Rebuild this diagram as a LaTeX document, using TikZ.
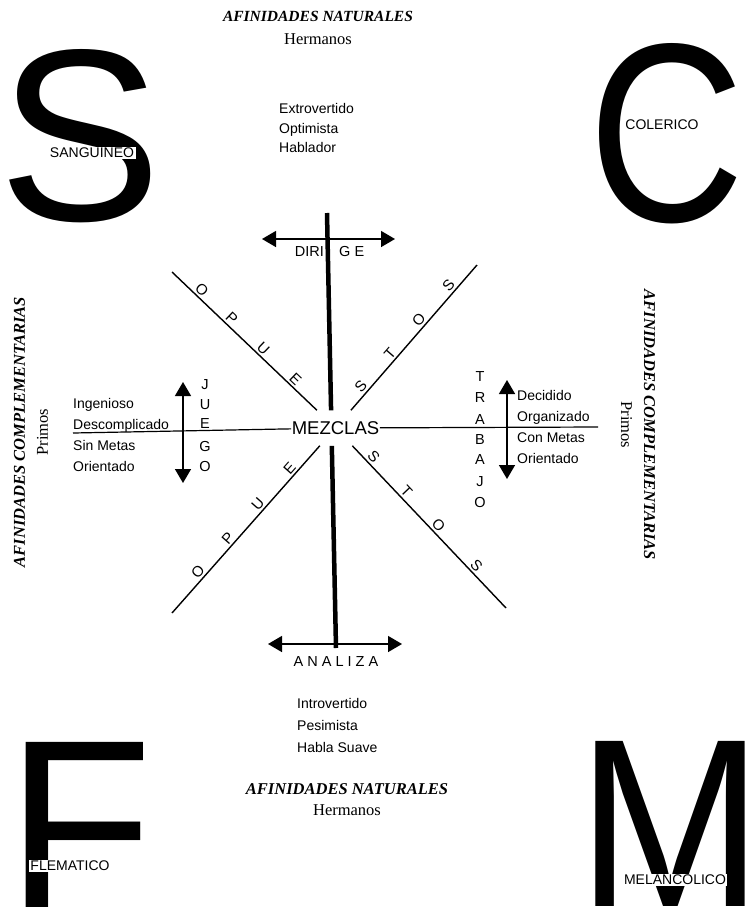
\documentclass[tikz,border=0pt]{standalone}
\usepackage{fontspec}
\setmainfont{Liberation Serif}
\setsansfont{Liberation Sans}
\usetikzlibrary{arrows.meta,positioning,calc}

\begin{document}
\begin{tikzpicture}[
 x=1pt,y=1pt,
 big/.style={inner sep=0pt,font=\sffamily\fontsize{#1}{#1}\selectfont},
 temp/.style={fill=white,inner sep=1.5pt,font=\sffamily\fontsize{14}{14}\selectfont},
 trait/.style={align=left,inner sep=0pt,font=\sffamily\fontsize{14}{#1}\selectfont},
 head/.style={align=center,inner sep=0pt,font=\fontsize{16.5}{#1}\selectfont},
 ltr/.style={inner sep=0pt,font=\sffamily\fontsize{14.5}{14.5}\selectfont},
 op/.style={sloped,above,inner sep=2.5pt,font=\sffamily\fontsize{15}{15}\selectfont},
 spine/.style={line width=4.5pt},
 diag/.style={line width=1.4pt},
 hline/.style={line width=1.2pt},
 arr/.style={{Triangle[length=14pt,width=16pt]}-{Triangle[length=14pt,width=16pt]},line width=1.5pt}]
\useasboundingbox (0,0) rectangle (745,-911);
\clip (0,0) rectangle (745,-911);
\node[head=23] (topnat) at (318,-28) {\fontsize{15.5}{23}\selectfont\textbf{\textit{AFINIDADES NATURALES}}\\Hermanos};
\node[head=21] (botnat) at (347,-800) {\textbf{\textit{AFINIDADES NATURALES}}\\Hermanos};
\node[head=23,rotate=90] (leftcomp) at (31,-432) {\textbf{\textit{AFINIDADES COMPLEMENTARIAS}}\\Primos};
\node[head=23,rotate=-90] (rightcomp) at (638,-425) {\textbf{\textit{AFINIDADES COMPLEMENTARIAS}}\\Primos};
\node[big=245] (sletter) at (80,-136) {S};
\node[big=255,xscale=.85] (cletter) at (667,-134) {C};
\node[big=240] (fletter) at (80,-825) {F};
\node[big=240,xscale=.93] (mletter) at (670,-824) {M};
\node[temp] (sanguineo) at (92,-153) {SANGUINEO};
\node[temp] (colerico) at (662,-125) {COLERICO};
\node[temp] (flematico) at (70,-866) {FLEMATICO};
\node[temp] (melancolico) at (675,-880) {MELANCOLICO};
\node[trait=19.5,anchor=west] (extro) at (279,-128) {Extrovertido\\Optimista\\Hablador};
\node[trait=22,anchor=west] (intro) at (297,-725) {Introvertido\\Pesimista\\Habla Suave};
\node[trait=21.3,anchor=west] (juegotr) at (73,-435) {Ingenioso\\Descomplicado\\Sin Metas\\Orientado};
\node[trait=21.3,anchor=west] (trabajotr) at (517,-427) {Decidido\\Organizado\\Con Metas\\Orientado};
\node[inner xsep=0.5pt,inner ysep=11pt,font=\sffamily\fontsize{18.5}{18.5}\selectfont] (mezclas) at (335.5,-428) {MEZCLAS};
\node[ltr,anchor=east] (diri) at (324,-252) {DIRI};
\node[ltr,anchor=west] (ge) at (339,-252) {G E};
\node[ltr] (analiza) at (336,-662) {A N A L I Z A};
\foreach \l/\y [count=\i] in {J/385,U/405,E/424,G/447,O/467}
 \node[ltr] (juego\i) at (205,-\y) {\l};
\foreach \l/\y [count=\i] in {T/377,R/398,A/420,B/440,A/460,J/482,O/503}
 \node[ltr] (trabajo\i) at (480,-\y) {\l};
\coordinate (vtop) at (327,-213);
\coordinate (vbot) at (336,-648);
\draw[spine] (vtop) -- ($(vtop)!(mezclas.north)!(vbot)$);
\draw[spine] ($(vtop)!(mezclas.south)!(vbot)$) -- (vbot);
\coordinate (hl) at (73,-433);
\coordinate (hr) at (598,-427);
\draw[hline] (hl) -- (mezclas);
\draw[hline] (mezclas) -- (hr);
\coordinate (ul) at (172,-272);
\coordinate (ur) at (477,-265);
\coordinate (ll) at (172,-613);
\coordinate (lr) at (506,-608);
\draw[diag] (ul) -- (mezclas);
\draw[diag] (mezclas) -- (ur);
\draw[diag] (ll) -- (mezclas);
\draw[diag] (mezclas) -- (lr);
\foreach \l/\p [count=\i] in {O/.168,P/.375,U/.592,E/.816}
 \path (ul) -- (mezclas) node[op,pos=\p] (opa\i) {\l};
\foreach \l/\p [count=\i] in {S/.127,T/.357,O/.586,S/.822}
 \path (mezclas) -- (ur) node[op,pos=\p] (stosa\i) {\l};
\foreach \l/\p [count=\i] in {O/.215,P/.417,U/.621,E/.835}
 \path (ll) -- (mezclas) node[op,pos=\p] (opb\i) {\l};
\foreach \l/\p [count=\i] in {S/.102,T/.316,O/.524,S/.77}
 \path (mezclas) -- (lr) node[op,pos=\p] (stosb\i) {\l};
\coordinate (dl) at (262,-239);
\coordinate (dr) at (395,-239);
\coordinate (al) at (268,-644);
\coordinate (ar) at (402,-644);
\coordinate (jt) at (183,-382);
\coordinate (jb) at (183,-483);
\coordinate (tt) at (507,-380);
\coordinate (tb) at (507,-479);
\foreach \a/\b in {dl/dr,al/ar,jt/jb,tt/tb}
 \draw[arr] (\a) -- (\b);
\end{tikzpicture}
\end{document}
